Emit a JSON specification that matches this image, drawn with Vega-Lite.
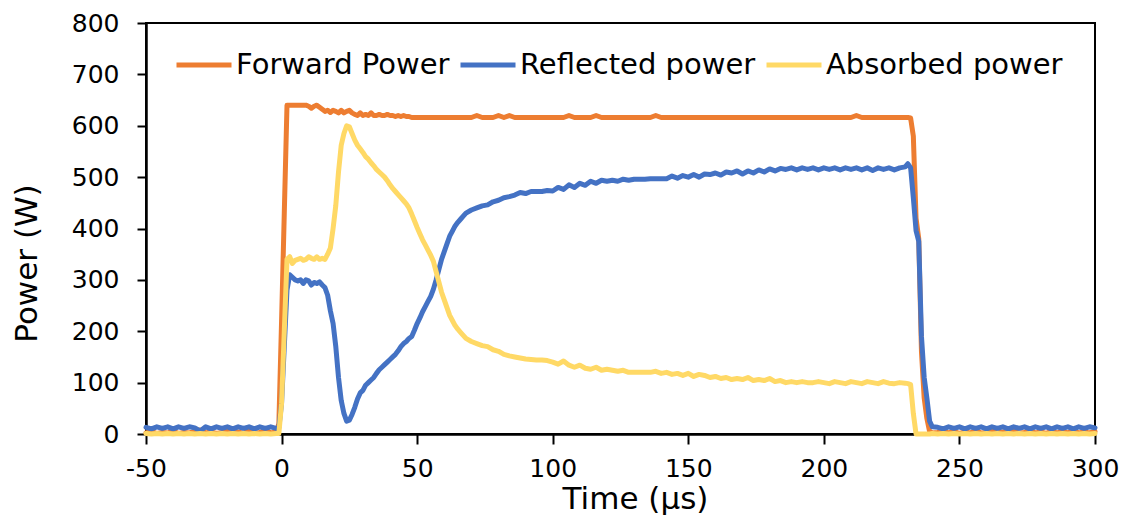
{
"$schema": "https://vega.github.io/schema/vega-lite/v6.json",
"width": 949, "height": 411,
"autosize": "none",
"padding": {"left": 146, "top": 23, "right": 34, "bottom": 83},
"background": "white",
"config": {"view": {"stroke": "black", "strokeWidth": 2}, "font": "DejaVu Sans"},
"data": {"values": [
{"t":-50,"F":2,"R":13,"A":1},{"t":-48,"F":5,"R":10,"A":0},{"t":-46,"F":1,"R":14,"A":1},{"t":-44,"F":3,"R":11,"A":0},
{"t":-42,"F":2,"R":14,"A":1},{"t":-40,"F":6,"R":10,"A":0},{"t":-38,"F":1,"R":14,"A":1},{"t":-36,"F":3,"R":11,"A":0},
{"t":-34,"F":2,"R":14,"A":1},{"t":-32,"F":5,"R":12,"A":0},{"t":-30,"F":8,"R":6,"A":1},{"t":-28,"F":2,"R":14,"A":0},
{"t":-26,"F":4,"R":10,"A":1},{"t":-24,"F":1,"R":14,"A":0},{"t":-22,"F":3,"R":11,"A":1},{"t":-20,"F":6,"R":14,"A":0},
{"t":-18,"F":2,"R":10,"A":1},{"t":-16,"F":4,"R":14,"A":0},{"t":-14,"F":1,"R":11,"A":1},{"t":-12,"F":7,"R":14,"A":0},
{"t":-10,"F":2,"R":10,"A":1},{"t":-8,"F":3,"R":14,"A":0},{"t":-6,"F":8,"R":11,"A":1},{"t":-4,"F":2,"R":14,"A":0},
{"t":-2,"F":4,"R":11,"A":1},{"t":-1,"F":20,"R":12,"A":1},
{"t":0,"F":220,"R":60,"A":60},{"t":1,"F":430,"R":170,"A":200},{"t":2,"F":640,"R":280,"A":340},{"t":3,"F":640,"R":310,"A":345},
{"t":4,"F":640,"R":305,"A":332},{"t":5,"F":640,"R":300,"A":338},{"t":6,"F":640,"R":298,"A":340},{"t":7,"F":640,"R":300,"A":342},
{"t":8,"F":640,"R":293,"A":338},{"t":9,"F":640,"R":300,"A":340},{"t":10,"F":638,"R":298,"A":345},{"t":11,"F":634,"R":290,"A":342},
{"t":12,"F":638,"R":295,"A":340},{"t":13,"F":640,"R":293,"A":345},{"t":14,"F":636,"R":296,"A":340},{"t":15,"F":632,"R":290,"A":342},
{"t":16,"F":628,"R":285,"A":340},{"t":17,"F":630,"R":270,"A":350},{"t":18,"F":626,"R":240,"A":362},{"t":19,"F":630,"R":215,"A":400},
{"t":20,"F":628,"R":170,"A":445},{"t":21,"F":625,"R":110,"A":510},{"t":22,"F":630,"R":65,"A":562},{"t":23,"F":625,"R":40,"A":585},
{"t":24,"F":628,"R":25,"A":600},{"t":25,"F":630,"R":27,"A":598},{"t":26,"F":625,"R":38,"A":585},{"t":27,"F":622,"R":52,"A":572},
{"t":28,"F":620,"R":68,"A":562},{"t":29,"F":625,"R":80,"A":555},{"t":30,"F":620,"R":85,"A":548},{"t":31,"F":622,"R":95,"A":540},
{"t":32,"F":620,"R":100,"A":535},{"t":33,"F":625,"R":105,"A":528},{"t":34,"F":620,"R":110,"A":522},{"t":35,"F":620,"R":118,"A":515},
{"t":36,"F":622,"R":125,"A":510},{"t":37,"F":620,"R":130,"A":505},{"t":38,"F":620,"R":135,"A":500},{"t":39,"F":622,"R":140,"A":493},
{"t":40,"F":620,"R":145,"A":485},{"t":41,"F":620,"R":150,"A":478},{"t":42,"F":618,"R":155,"A":472},{"t":43,"F":620,"R":162,"A":466},
{"t":44,"F":618,"R":170,"A":460},{"t":45,"F":620,"R":176,"A":454},{"t":46,"F":618,"R":180,"A":448},{"t":47,"F":618,"R":186,"A":440},
{"t":48,"F":616,"R":190,"A":428},{"t":49,"F":616,"R":202,"A":415},{"t":50,"F":616,"R":215,"A":402},{"t":51,"F":616,"R":226,"A":390},
{"t":52,"F":616,"R":238,"A":378},{"t":53,"F":616,"R":248,"A":368},{"t":54,"F":616,"R":258,"A":358},{"t":55,"F":616,"R":268,"A":348},
{"t":56,"F":616,"R":282,"A":336},{"t":57,"F":616,"R":300,"A":316},{"t":58,"F":616,"R":320,"A":296},{"t":59,"F":616,"R":340,"A":276},
{"t":60,"F":616,"R":355,"A":261},{"t":61,"F":616,"R":370,"A":246},{"t":62,"F":616,"R":385,"A":231},{"t":63,"F":616,"R":395,"A":221},
{"t":64,"F":616,"R":405,"A":211},{"t":65,"F":616,"R":412,"A":204},{"t":66,"F":616,"R":418,"A":198},{"t":67,"F":616,"R":424,"A":192},
{"t":68,"F":616,"R":430,"A":186},{"t":70,"F":616,"R":436,"A":180},{"t":72,"F":620,"R":440,"A":176},{"t":74,"F":616,"R":444,"A":172},
{"t":76,"F":616,"R":446,"A":170},{"t":78,"F":616,"R":452,"A":164},{"t":80,"F":620,"R":455,"A":161},{"t":82,"F":616,"R":460,"A":155},
{"t":84,"F":620,"R":462,"A":152},{"t":86,"F":616,"R":465,"A":150},{"t":88,"F":616,"R":470,"A":148},{"t":90,"F":616,"R":468,"A":146},
{"t":92,"F":616,"R":472,"A":145},{"t":94,"F":616,"R":472,"A":144},{"t":96,"F":616,"R":472,"A":144},{"t":98,"F":616,"R":474,"A":143},
{"t":100,"F":616,"R":473,"A":140},{"t":102,"F":616,"R":480,"A":136},{"t":104,"F":616,"R":476,"A":142},{"t":106,"F":620,"R":485,"A":134},
{"t":108,"F":616,"R":480,"A":130},{"t":110,"F":616,"R":488,"A":134},{"t":112,"F":616,"R":484,"A":128},{"t":114,"F":616,"R":492,"A":126},
{"t":116,"F":620,"R":488,"A":130},{"t":118,"F":616,"R":494,"A":124},{"t":120,"F":616,"R":492,"A":126},{"t":122,"F":616,"R":494,"A":124},
{"t":124,"F":616,"R":492,"A":122},{"t":126,"F":616,"R":496,"A":124},{"t":128,"F":616,"R":494,"A":120},{"t":130,"F":616,"R":496,"A":120},
{"t":132,"F":616,"R":496,"A":120},{"t":134,"F":616,"R":496,"A":120},{"t":136,"F":616,"R":497,"A":120},{"t":138,"F":620,"R":497,"A":122},
{"t":140,"F":616,"R":497,"A":118},{"t":142,"F":616,"R":497,"A":120},{"t":144,"F":616,"R":502,"A":116},{"t":146,"F":616,"R":498,"A":118},
{"t":148,"F":616,"R":503,"A":114},{"t":150,"F":616,"R":500,"A":118},{"t":152,"F":616,"R":505,"A":112},{"t":154,"F":616,"R":500,"A":116},
{"t":156,"F":616,"R":506,"A":114},{"t":158,"F":616,"R":505,"A":110},{"t":160,"F":616,"R":508,"A":112},{"t":162,"F":616,"R":504,"A":108},
{"t":164,"F":616,"R":510,"A":110},{"t":166,"F":616,"R":508,"A":106},{"t":168,"F":616,"R":512,"A":108},{"t":170,"F":616,"R":506,"A":106},
{"t":172,"F":616,"R":512,"A":110},{"t":174,"F":616,"R":508,"A":104},{"t":176,"F":616,"R":514,"A":106},{"t":178,"F":616,"R":510,"A":104},
{"t":180,"F":616,"R":516,"A":108},{"t":182,"F":616,"R":512,"A":102},{"t":184,"F":616,"R":517,"A":104},{"t":186,"F":616,"R":515,"A":100},
{"t":188,"F":616,"R":518,"A":102},{"t":190,"F":616,"R":514,"A":100},{"t":192,"F":616,"R":518,"A":102},{"t":194,"F":616,"R":515,"A":100},
{"t":196,"F":616,"R":518,"A":100},{"t":198,"F":616,"R":514,"A":102},{"t":200,"F":616,"R":518,"A":100},{"t":202,"F":616,"R":515,"A":98},
{"t":204,"F":616,"R":518,"A":102},{"t":206,"F":616,"R":514,"A":100},{"t":208,"F":616,"R":518,"A":98},{"t":210,"F":616,"R":515,"A":102},
{"t":212,"F":620,"R":518,"A":100},{"t":214,"F":616,"R":514,"A":98},{"t":216,"F":616,"R":518,"A":102},{"t":218,"F":616,"R":513,"A":100},
{"t":220,"F":616,"R":518,"A":98},{"t":222,"F":616,"R":515,"A":102},{"t":224,"F":616,"R":518,"A":99},{"t":226,"F":616,"R":514,"A":98},
{"t":228,"F":616,"R":518,"A":100},{"t":230,"F":616,"R":520,"A":99},{"t":231,"F":616,"R":526,"A":98},{"t":232,"F":615,"R":518,"A":96},
{"t":233,"F":580,"R":460,"A":40},{"t":234,"F":420,"R":396,"A":0},{"t":235,"F":380,"R":375,"A":0},{"t":236,"F":160,"R":190,"A":0},
{"t":237,"F":70,"R":110,"A":0},{"t":238,"F":30,"R":70,"A":0},{"t":239,"F":5,"R":25,"A":0},{"t":240,"F":2,"R":14,"A":1},
{"t":242,"F":3,"R":13,"A":0},{"t":244,"F":6,"R":10,"A":1},{"t":246,"F":2,"R":14,"A":0},{"t":248,"F":5,"R":11,"A":1},
{"t":250,"F":1,"R":14,"A":0},{"t":252,"F":4,"R":10,"A":1},{"t":254,"F":2,"R":14,"A":0},{"t":256,"F":7,"R":11,"A":1},
{"t":258,"F":2,"R":14,"A":0},{"t":260,"F":3,"R":10,"A":1},{"t":262,"F":6,"R":14,"A":0},{"t":264,"F":2,"R":11,"A":1},
{"t":266,"F":4,"R":14,"A":0},{"t":268,"F":1,"R":10,"A":1},{"t":270,"F":6,"R":14,"A":0},{"t":272,"F":2,"R":11,"A":1},
{"t":274,"F":3,"R":14,"A":0},{"t":276,"F":7,"R":10,"A":1},{"t":278,"F":2,"R":14,"A":0},{"t":280,"F":4,"R":11,"A":1},
{"t":282,"F":1,"R":14,"A":0},{"t":284,"F":6,"R":10,"A":1},{"t":286,"F":2,"R":14,"A":0},{"t":288,"F":5,"R":11,"A":1},
{"t":290,"F":2,"R":14,"A":0},{"t":292,"F":7,"R":10,"A":1},{"t":294,"F":2,"R":14,"A":0},{"t":296,"F":4,"R":11,"A":1},
{"t":298,"F":2,"R":14,"A":0},{"t":300,"F":5,"R":12,"A":1}
]},
"transform": [{"fold": ["F", "R", "A"], "as": ["s", "v"]}],
"mark": {"type": "line", "strokeJoin": "round", "strokeCap": "round"},
"encoding": {
  "x": {"field": "t", "type": "quantitative",
    "scale": {"domain": [-50, 300], "nice": false, "zero": false},
    "axis": {"values": [-50, 0, 50, 100, 150, 200, 250, 300], "grid": false,
      "labelExpr": "toString(datum.value)",
      "labelFontSize": 25, "labelColor": "black", "labelPadding": 12, "labelFlush": false,
      "domainColor": "black", "domainWidth": 2.5, "tickColor": "black", "tickWidth": 2, "tickSize": 10,
      "title": "Time (µs)", "titleFontSize": 31, "titleFontWeight": "normal", "titleColor": "black",
      "titleX": 489, "titleY": 50, "titleBaseline": "top"}},
  "y": {"field": "v", "type": "quantitative",
    "scale": {"domain": [0, 800], "nice": false},
    "axis": {"values": [0, 100, 200, 300, 400, 500, 600, 700, 800], "grid": false,
      "labelFontSize": 25, "labelColor": "black", "labelPadding": 18, "labelFlush": false,
      "domainColor": "black", "domainWidth": 2.5, "tickColor": "black", "tickWidth": 2, "tickSize": 9,
      "title": "Power (W)", "titleFontSize": 31, "titleFontWeight": "normal", "titleColor": "black",
      "titleX": -119, "titleY": 240, "titleBaseline": "middle", "titleAlign": "center", "titleAngle": -90}},
  "color": {"field": "s", "type": "nominal",
    "scale": {"domain": ["F", "R", "A"], "range": ["#ED7D31", "#4472C4", "#FFD966"]},
    "legend": {"orient": "none", "legendX": 28, "legendY": 12, "direction": "horizontal", "title": null,
      "labelFontSize": 29, "labelColor": "black", "labelLimit": 500, "labelOffset": 2, "columnPadding": 0,
      "symbolType": "stroke", "symbolSize": 3025, "symbolStrokeWidth": 4.5, "padding": 0,
      "labelExpr": "datum.value == 'F' ? 'Forward Power' : datum.value == 'R' ? 'Reflected power' : 'Absorbed power'"}},
  "strokeWidth": {"field": "s", "type": "nominal",
    "scale": {"domain": ["F", "R", "A"], "range": [5, 5, 3.5]}, "legend": null}
}
}
